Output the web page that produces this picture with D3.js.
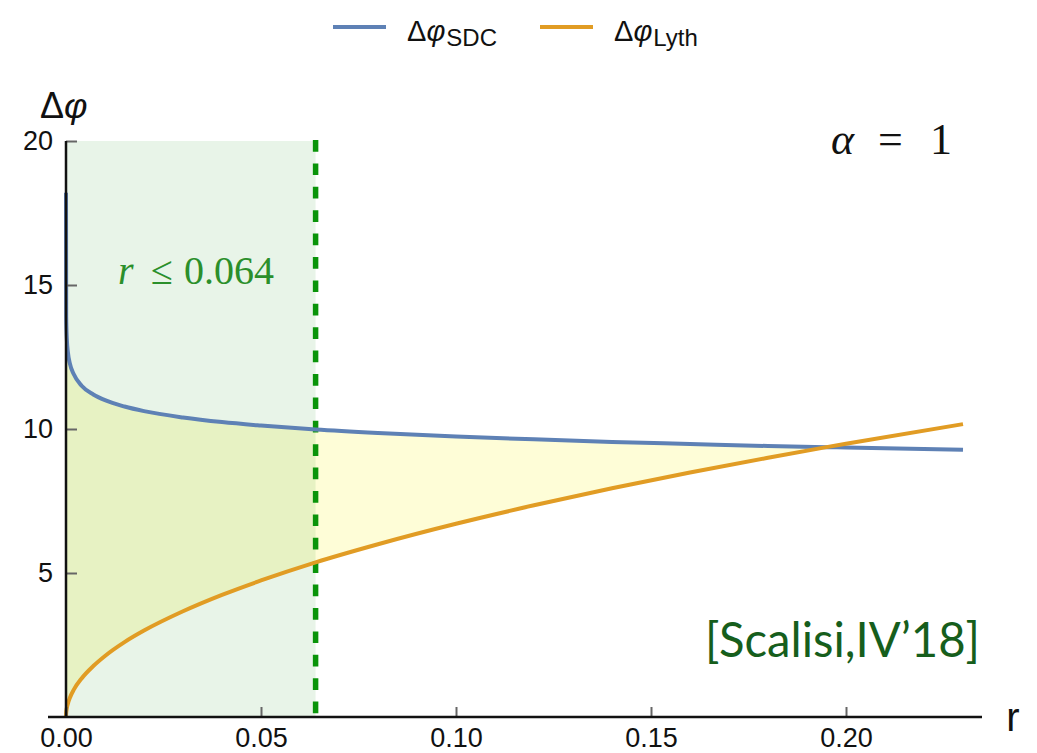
<!DOCTYPE html>
<html>
<head>
  <meta charset="utf-8">
  <script src="https://d3js.org/d3.v7.min.js"></script>
  <style>
    body { margin: 0; background: #fff; font-family: 'Liberation Sans', Arial, sans-serif; }
  </style>
</head>
<body>
  <div id="my_dataviz"></div>
  <script>
    // values (r grid shared by both curves)
    var rValues   = [0, 0.00005, 0.0002, 0.0005, 0.001, 0.002, 0.004, 0.007, 0.01, 0.015, 0.02, 0.03, 0.04, 0.05, 0.064, 0.08, 0.10, 0.12, 0.14, 0.16, 0.18, 0.195, 0.20, 0.23];
    var sdcValues = [18.2, 13.9, 13.15, 12.65, 12.27, 11.9, 11.5, 11.2, 11.0, 10.78, 10.62, 10.4, 10.24, 10.12, 9.98, 9.86, 9.74, 9.64, 9.55, 9.48, 9.41, 9.37, 9.36, 9.28];
    var lythValues = [0, 0.15, 0.30, 0.47, 0.67, 0.95, 1.34, 1.77, 2.12, 2.60, 3.00, 3.67, 4.24, 4.74, 5.37, 6.00, 6.71, 7.35, 7.94, 8.49, 9.00, 9.37, 9.49, 10.17];
    var rBound = 0.064;

    var xMajor = [0, 0.05, 0.10, 0.15, 0.20];
    var xMinor = d3.range(0, 24).map(function (i) { return i / 100; });
    var yMajor = [5, 10, 15, 20];
    var yMinor = d3.range(0, 21);

    var W = 1037, H = 753;
    var svg = d3.select("#my_dataviz")
      .append("svg")
      .attr("width", W)
      .attr("height", H);

    var x = d3.scaleLinear().domain([0, 0.23]).range([66, 963]);
    var y = d3.scaleLinear().domain([0, 20]).range([717, 141]);

    var rows = rValues.map(function (r, i) {
      return { r: r, sdc: sdcValues[i], lyth: lythValues[i] };
    });

    // yellow filling between the curves
    svg.append("path")
      .datum(rows)
      .attr("fill", "#fefdd7")
      .attr("d", d3.area()
        .curve(d3.curveMonotoneX)
        .x(function (d) { return x(d.r); })
        .y0(function (d) { return y(d.lyth); })
        .y1(function (d) { return y(Math.max(d.sdc, d.lyth)); }));

    // green region r <= 0.064
    svg.append("rect")
      .attr("x", x(0))
      .attr("y", y(20))
      .attr("width", x(rBound) - x(0))
      .attr("height", y(0) - y(20))
      .attr("fill", "rgb(0,128,0)")
      .attr("fill-opacity", 0.09);

    // dashed bound
    svg.append("line")
      .attr("x1", x(rBound)).attr("x2", x(rBound))
      .attr("y1", y(20) - 1).attr("y2", y(0))
      .attr("stroke", "#0a940a")
      .attr("stroke-width", 5.5)
      .attr("stroke-dasharray", "11.7,11.7");

    // curves
    var lineSdc = d3.line().curve(d3.curveMonotoneX)
      .x(function (d) { return x(d.r); })
      .y(function (d) { return y(d.sdc); });
    var lineLyth = d3.line().curve(d3.curveMonotoneX)
      .x(function (d) { return x(d.r); })
      .y(function (d) { return y(d.lyth); });

    svg.append("path").datum(rows)
      .attr("fill", "none").attr("stroke", "#5e81b5").attr("stroke-width", 4)
      .attr("d", lineSdc);
    svg.append("path").datum(rows)
      .attr("fill", "none").attr("stroke", "#e19c24").attr("stroke-width", 4)
      .attr("d", lineLyth);

    // X axis
    var gx = svg.append("g").attr("transform", "translate(0," + y(0) + ")");
    gx.call(d3.axisBottom(x).tickValues(xMinor).tickSize(-6).tickFormat(""));
    gx.call(d3.axisBottom(x).tickValues(xMajor).tickSize(-10).tickPadding(11).tickFormat(d3.format(".2f")));
    gx.selectAll(".domain").remove();
    gx.selectAll("line").attr("stroke", "#666").attr("stroke-width", 2);
    gx.selectAll("text").attr("font-size", 27).attr("fill", "#111")
      .attr("font-family", "'Liberation Sans', Arial, sans-serif");
    svg.append("line")
      .attr("x1", 48).attr("x2", 982)
      .attr("y1", y(0)).attr("y2", y(0))
      .attr("stroke", "#111").attr("stroke-width", 2.5);

    // Y axis
    var gy = svg.append("g").attr("transform", "translate(" + x(0) + ",0)");
    gy.call(d3.axisLeft(y).tickValues(yMinor).tickSize(-7).tickFormat(""));
    gy.call(d3.axisLeft(y).tickValues(yMajor).tickSize(-11).tickPadding(13));
    gy.selectAll(".domain").remove();
    gy.selectAll("line").attr("stroke", "#666").attr("stroke-width", 2);
    gy.selectAll("text").attr("font-size", 27).attr("fill", "#111")
      .attr("font-family", "'Liberation Sans', Arial, sans-serif");
    svg.append("line")
      .attr("x1", x(0)).attr("x2", x(0))
      .attr("y1", y(20)).attr("y2", y(0))
      .attr("stroke", "#111").attr("stroke-width", 2.5);

    // axis labels
    var yl = svg.append("text")
      .attr("x", 40).attr("y", 118)
      .attr("font-size", 36).attr("fill", "#111");
    yl.append("tspan").text("Δ");
    yl.append("tspan").attr("font-style", "italic").text("φ");

    svg.append("text")
      .attr("x", 1013).attr("y", 731)
      .attr("text-anchor", "middle")
      .attr("font-size", 40).attr("fill", "#111")
      .text("r");

    // legend
    var legend = [
      { name: "SDC", color: "#5e81b5", x0: 333, tx: 407 },
      { name: "Lyth", color: "#e19c24", x0: 540, tx: 614 }
    ];
    legend.forEach(function (l) {
      svg.append("line")
        .attr("x1", l.x0).attr("x2", l.x0 + 53)
        .attr("y1", 27).attr("y2", 27)
        .attr("stroke", l.color).attr("stroke-width", 4);
      var t = svg.append("text")
        .attr("x", l.tx).attr("y", 41)
        .attr("font-size", 29).attr("fill", "#111");
      t.append("tspan").text("Δ");
      t.append("tspan").attr("font-style", "italic").text("φ");
      t.append("tspan").attr("font-size", 24).attr("dy", 5).attr("dx", 1).text(l.name);
    });

    // annotations
    var serif = "'Liberation Serif', 'DejaVu Serif', serif";
    var alpha = svg.append("g")
      .attr("font-family", serif).attr("font-size", 44).attr("fill", "#111");
    alpha.append("text").attr("x", 831).attr("y", 154).attr("font-style", "italic").text("α");
    alpha.append("text").attr("x", 878).attr("y", 154).text("=");
    alpha.append("text").attr("x", 952).attr("y", 154).attr("text-anchor", "end").text("1");

    var rt = svg.append("g")
      .attr("font-family", serif).attr("font-size", 40).attr("fill", "#2b8f2b");
    rt.append("text").attr("x", 118).attr("y", 284).attr("font-style", "italic").text("r");
    rt.append("text").attr("x", 151).attr("y", 284).text("≤");
    rt.append("text").attr("x", 274).attr("y", 284).attr("text-anchor", "end").text("0.064");

    svg.append("text")
      .attr("x", 705).attr("y", 657)
      .attr("font-family", "Lato, 'Open Sans', sans-serif")
      .attr("font-size", 48).attr("fill", "#165e1c")
      .attr("textLength", 275).attr("lengthAdjust", "spacingAndGlyphs")
      .text("[Scalisi,IV’18]");
  </script>
</body>
</html>
